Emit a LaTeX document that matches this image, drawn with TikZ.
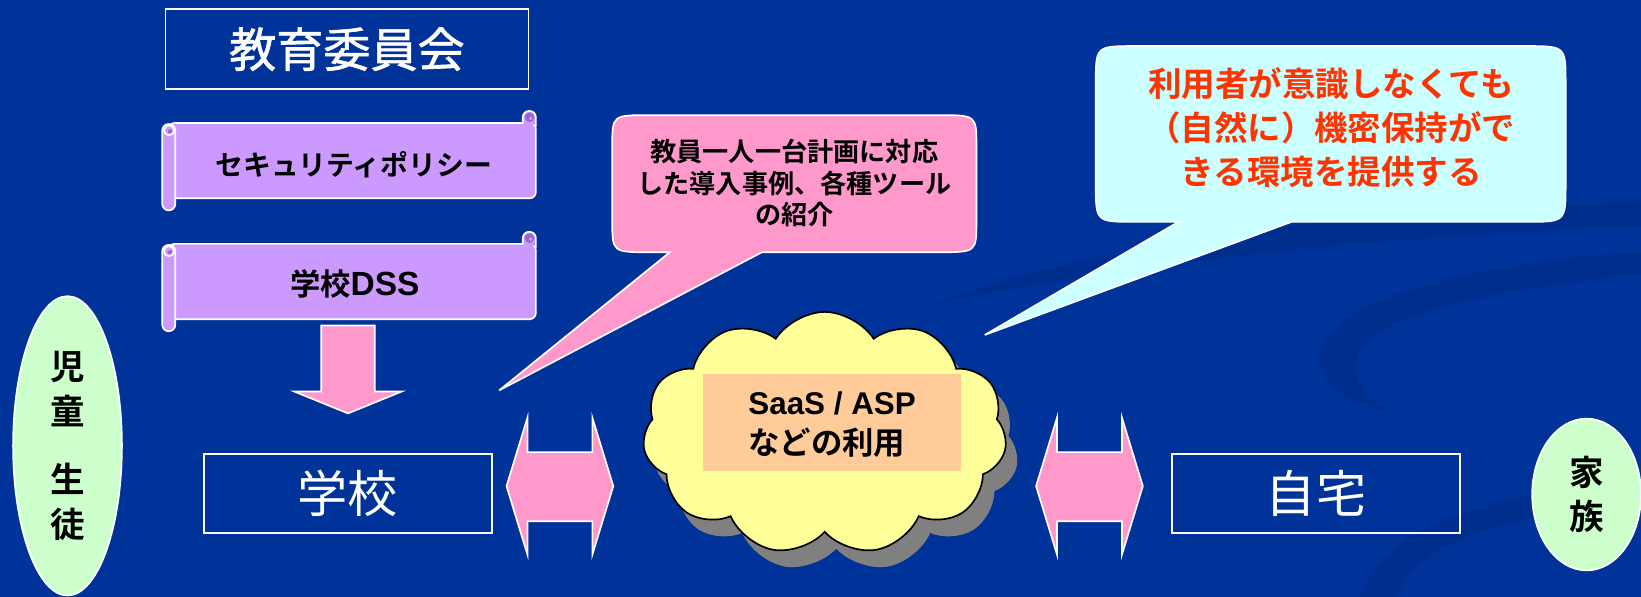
\documentclass[tikz,border=0pt]{standalone}
\usepackage{fontspec}
\setmainfont{Liberation Sans}
\newfontfamily\jp{Noto Sans CJK JP}[BoldFont={Noto Sans CJK JP Bold}]
\newfontfamily\jpmed{Noto Sans CJK JP}[FakeBold=1.3]
\newcommand{\jtext}[1]{{\jp #1}}
\usetikzlibrary{shapes.geometric,shapes.symbols}
\definecolor{bg}{RGB}{0,51,153}
\definecolor{swoosh}{RGB}{0,46,142}
\definecolor{pinkf}{RGB}{255,153,204}
\definecolor{purf}{RGB}{204,153,255}
\definecolor{curlc}{RGB}{153,102,204}
\definecolor{cyanf}{RGB}{204,255,255}
\definecolor{redt}{RGB}{255,51,0}
\definecolor{greenf}{RGB}{204,255,204}
\definecolor{yellowf}{RGB}{255,255,153}
\definecolor{peach}{RGB}{255,204,153}
\definecolor{shadowc}{RGB}{128,128,128}
\begin{document}
\begin{tikzpicture}[x=0.5pt,y=-0.5pt,
  wline/.style={draw=white,line width=0.8pt},
  framebox/.style={wline,inner sep=0pt,text=white,font=\jp\fontsize{24pt}{28pt}\selectfont},
  scrollst/.style={wline,fill=purf},
  scrolltext/.style={font=\jp\bfseries\fontsize{13.3pt}{15pt}\selectfont,text=black},
  blockarrow/.style={wline,fill=pinkf,line join=miter},
  oval/.style={ellipse,wline,fill=greenf,inner sep=0pt,align=center,text=black,
    font=\jp\bfseries\fontsize{16.5pt}{21.25pt}\selectfont},
  cloudst/.style={cloud,cloud puffs=11,cloud puff arc=115,cloud ignores aspect,
    minimum width=174pt,minimum height=116pt,inner sep=0pt},
  callout/.style={wline,line join=miter}
]
% background
\fill[bg] (0,0) rectangle (1568,570);
\useasboundingbox (0,0) rectangle (1568,570);
\fill[swoosh] (890,292) .. controls (1050,228) and (1300,202) .. (1568,192)
  -- (1568,216) .. controls (1330,226) and (1100,246) .. (890,292) -- cycle;
\fill[swoosh] (1262,335) .. controls (1280,280) and (1420,252) .. (1568,240)
  -- (1568,262) .. controls (1440,275) and (1302,300) .. (1296,345)
  .. controls (1293,370) and (1310,385) .. (1330,395)
  .. controls (1280,385) and (1255,360) .. (1262,335) -- cycle;
\fill[swoosh] (1300,570) .. controls (1320,505) and (1420,472) .. (1568,458)
  -- (1568,478) .. controls (1440,492) and (1346,522) .. (1336,570) -- cycle;

% board
\node[framebox,minimum width=173.5pt,minimum height=38.2pt,
  font=\jpmed\fontsize{22.5pt}{26pt}\selectfont] (board) at (331.5,47) {教育委員会};

% scrolls
\foreach \T in {117.5,233} {
  \draw[scrollst,rounded corners=3pt] (161,\T) rectangle (512,{\T+72});
  \fill[purf,rounded corners=3pt] (499.5,{\T+3}) -- (499.5,{\T-11.5}) -- (512,{\T-11.5}) -- (512,{\T+3}) -- cycle;
  \draw[wline,rounded corners=3pt] (499.5,\T) -- (499.5,{\T-11.5}) -- (512,{\T-11.5}) -- (512,{\T+4});
  \fill[curlc] (506,{\T-5.5}) circle[radius=2.3pt];
  \fill[purf] (507,{\T-4.5}) circle[radius=0.9pt];
  \draw[scrollst,rounded corners=3.1pt] (155,{\T+1}) rectangle (167.5,{\T+83.5});
  \draw[wline,fill=purf] (161.5,{\T+7}) circle[radius=2.4pt];
  \fill[curlc] (162.5,{\T+8}) circle[radius=1pt];
}
\node[scrolltext] (policy) at (338,157) {セキュリティポリシー};
\node[scrolltext,font=\jp\bfseries\fontsize{14.5pt}{16pt}\selectfont] (dss) at (339,271.5)
  {学校{\rmfamily\fontsize{16pt}{16pt}\selectfont DSS}};

% down arrow
\coordinate (downtip) at (332.5,395);
\draw[blockarrow] (307,311) -- (358,311) -- (358,374) -- (384,374) -- (downtip)
  -- (281,374) -- (307,374) -- cycle;

% school / home boxes
\node[framebox,minimum width=137.5pt,minimum height=37.5pt] (school) at (332.5,471.5) {学校};
\node[framebox,minimum width=137.5pt,minimum height=37.5pt] (home) at (1257.5,471.5) {自宅};

% double arrows
\foreach \dx in {0,506} {
  \begin{scope}[shift={(\dx,0)}]
    \draw[blockarrow] (484,464.5) -- (504,399) -- (504,432) -- (566,432) -- (566,399)
      -- (586,464.5) -- (566,530) -- (566,498) -- (504,498) -- (504,530) -- cycle;
  \end{scope}
}

% callouts
\coordinate (pinktip) at (477,373);
\draw[callout,fill=pinkf] (pinktip) -- (640,241) -- (621,241) .. controls (585,241) .. (585,211)
  -- (585,140) .. controls (585,110) .. (621,110) -- (897,110) .. controls (933,110) .. (933,140)
  -- (933,211) .. controls (933,241) .. (897,241) -- (728,241) -- cycle;
\node[font=\jp\bfseries\fontsize{12.5pt}{15pt}\selectfont,align=center,text=black] (pinktext)
  at (759,175) {教員一人一台計画に対応\\した導入事例、各種ツール\\の紹介};

\coordinate (cyantip) at (941,320);
\draw[callout,fill=cyanf] (cyantip) -- (1126,212) -- (1085,212) .. controls (1047,212) .. (1047,176)
  -- (1047,80) .. controls (1047,44) .. (1085,44) -- (1458,44) .. controls (1496,44) .. (1496,80)
  -- (1496,176) .. controls (1496,212) .. (1458,212) -- (1234,212) -- cycle;
\node[font=\jp\bfseries\fontsize{16pt}{21pt}\selectfont,align=center,text=redt] (cyantext)
  at (1272,122) {利用者が意識しなくても\\（自然に）機密保持がで\\きる環境を提供する};

% cloud
\node[cloudst,fill=shadowc] (cloudshadow) at (799,430) {};
\node[cloudst,draw=black,line width=0.8pt,fill=yellowf] (cloud) at (788,414) {};
\node[fill=peach,inner sep=0pt,minimum width=123pt,minimum height=46.5pt] (saasbox) at (795,403.5) {};
\node[anchor=west,align=left,text=black,font=\bfseries\fontsize{15pt}{19pt}\selectfont] (saas)
  at (708,406) {SaaS / ASP\\\jtext{などの利用}};

% ovals
\node[oval,minimum width=52pt,minimum height=143pt] (students) at (64.5,426) {児\\童\\[11.5pt]生\\徒};
\node[oval,minimum width=52pt,minimum height=72.5pt] (family) at (1516,472.5) {家\\族};
\end{tikzpicture}
\end{document}
